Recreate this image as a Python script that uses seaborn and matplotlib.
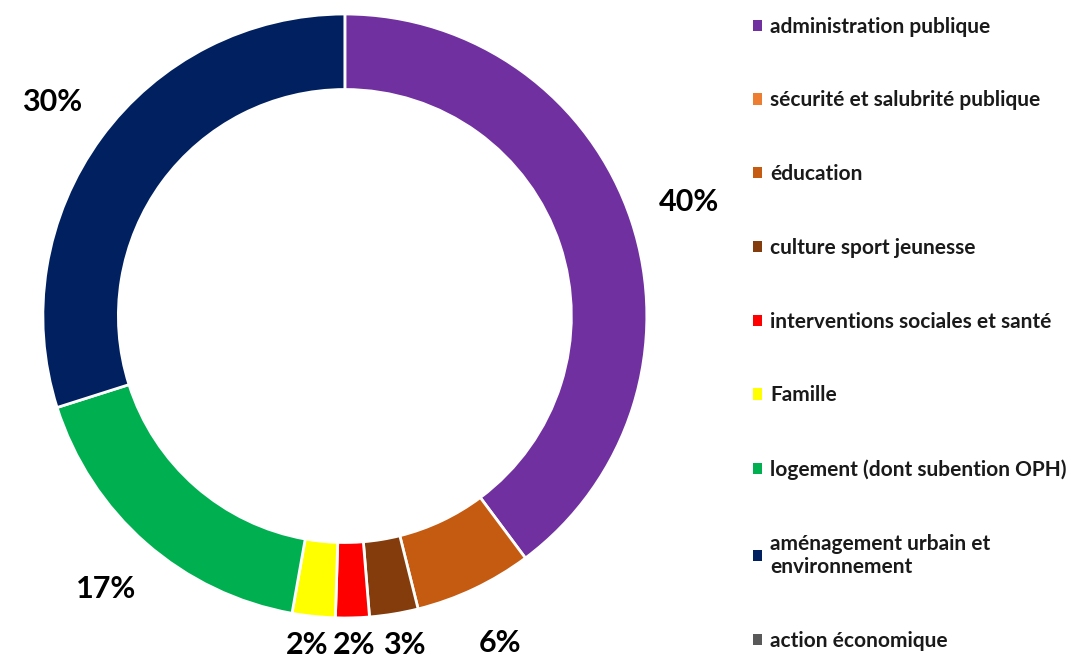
import matplotlib
matplotlib.use('Agg')
import matplotlib.pyplot as plt
import matplotlib.patches as mpatches
import seaborn as sns

sns.set_style('white')
plt.rcParams['font.family'] = ['Lato', 'DejaVu Sans']

# données (parts en %)
categories = ['administration publique', 'sécurité et salubrité publique', 'éducation',
              'culture sport jeunesse', 'interventions sociales et santé', 'Famille',
              'logement (dont subention OPH)', 'aménagement urbain et\nenvironnement',
              'action économique']
values = [39.8, 0.0, 6.3, 2.6, 1.8, 2.3, 17.3, 29.9, 0.0]
colors = ['#7030A0', '#ED7D31', '#C55A11', '#843C0C', '#FF0000', '#FFFF00',
          '#00B050', '#002060', '#595959']
palette = sns.color_palette(colors)

fig = plt.figure(figsize=(10.72, 6.67), dpi=100)
ax = fig.add_axes([0.040, 0.0735, 0.5634, 0.9055])

# on ne dessine que les parts non nulles
shown = [i for i, v in enumerate(values) if v > 0]
wedges, texts, autotexts = ax.pie(
    [values[i] for i in shown],
    colors=[palette[i] for i in shown],
    startangle=90, counterclock=False,
    autopct=lambda p: f'{p:.0f}%', pctdistance=1.2,
    wedgeprops=dict(width=0.25, edgecolor='white', linewidth=2),
    textprops=dict(fontsize=22, fontweight='bold', color='black'))
# les étiquettes du bas restent dans le cadre
for t in autotexts:
    x, y = t.get_position()
    t.set_position((x, max(y, -1.09)))
ax.set_xlim(-1, 1)
ax.set_ylim(-1, 1)
ax.set_aspect('equal')

handles = [mpatches.Patch(facecolor=palette[i], edgecolor='none', label=categories[i])
           for i in range(len(categories))]
leg = fig.legend(handles=handles, loc='upper left', bbox_to_anchor=(0.6845, 1.003),
                 frameon=False, handlelength=0.45, handleheight=0.45, handletextpad=0.4,
                 labelspacing=2.58, prop=dict(family='Lato', weight='bold', size=15))
for t in leg.get_texts():
    t.set_color('#1a1a1a')

plt.savefig('out.png', dpi=100)
plt.close()
